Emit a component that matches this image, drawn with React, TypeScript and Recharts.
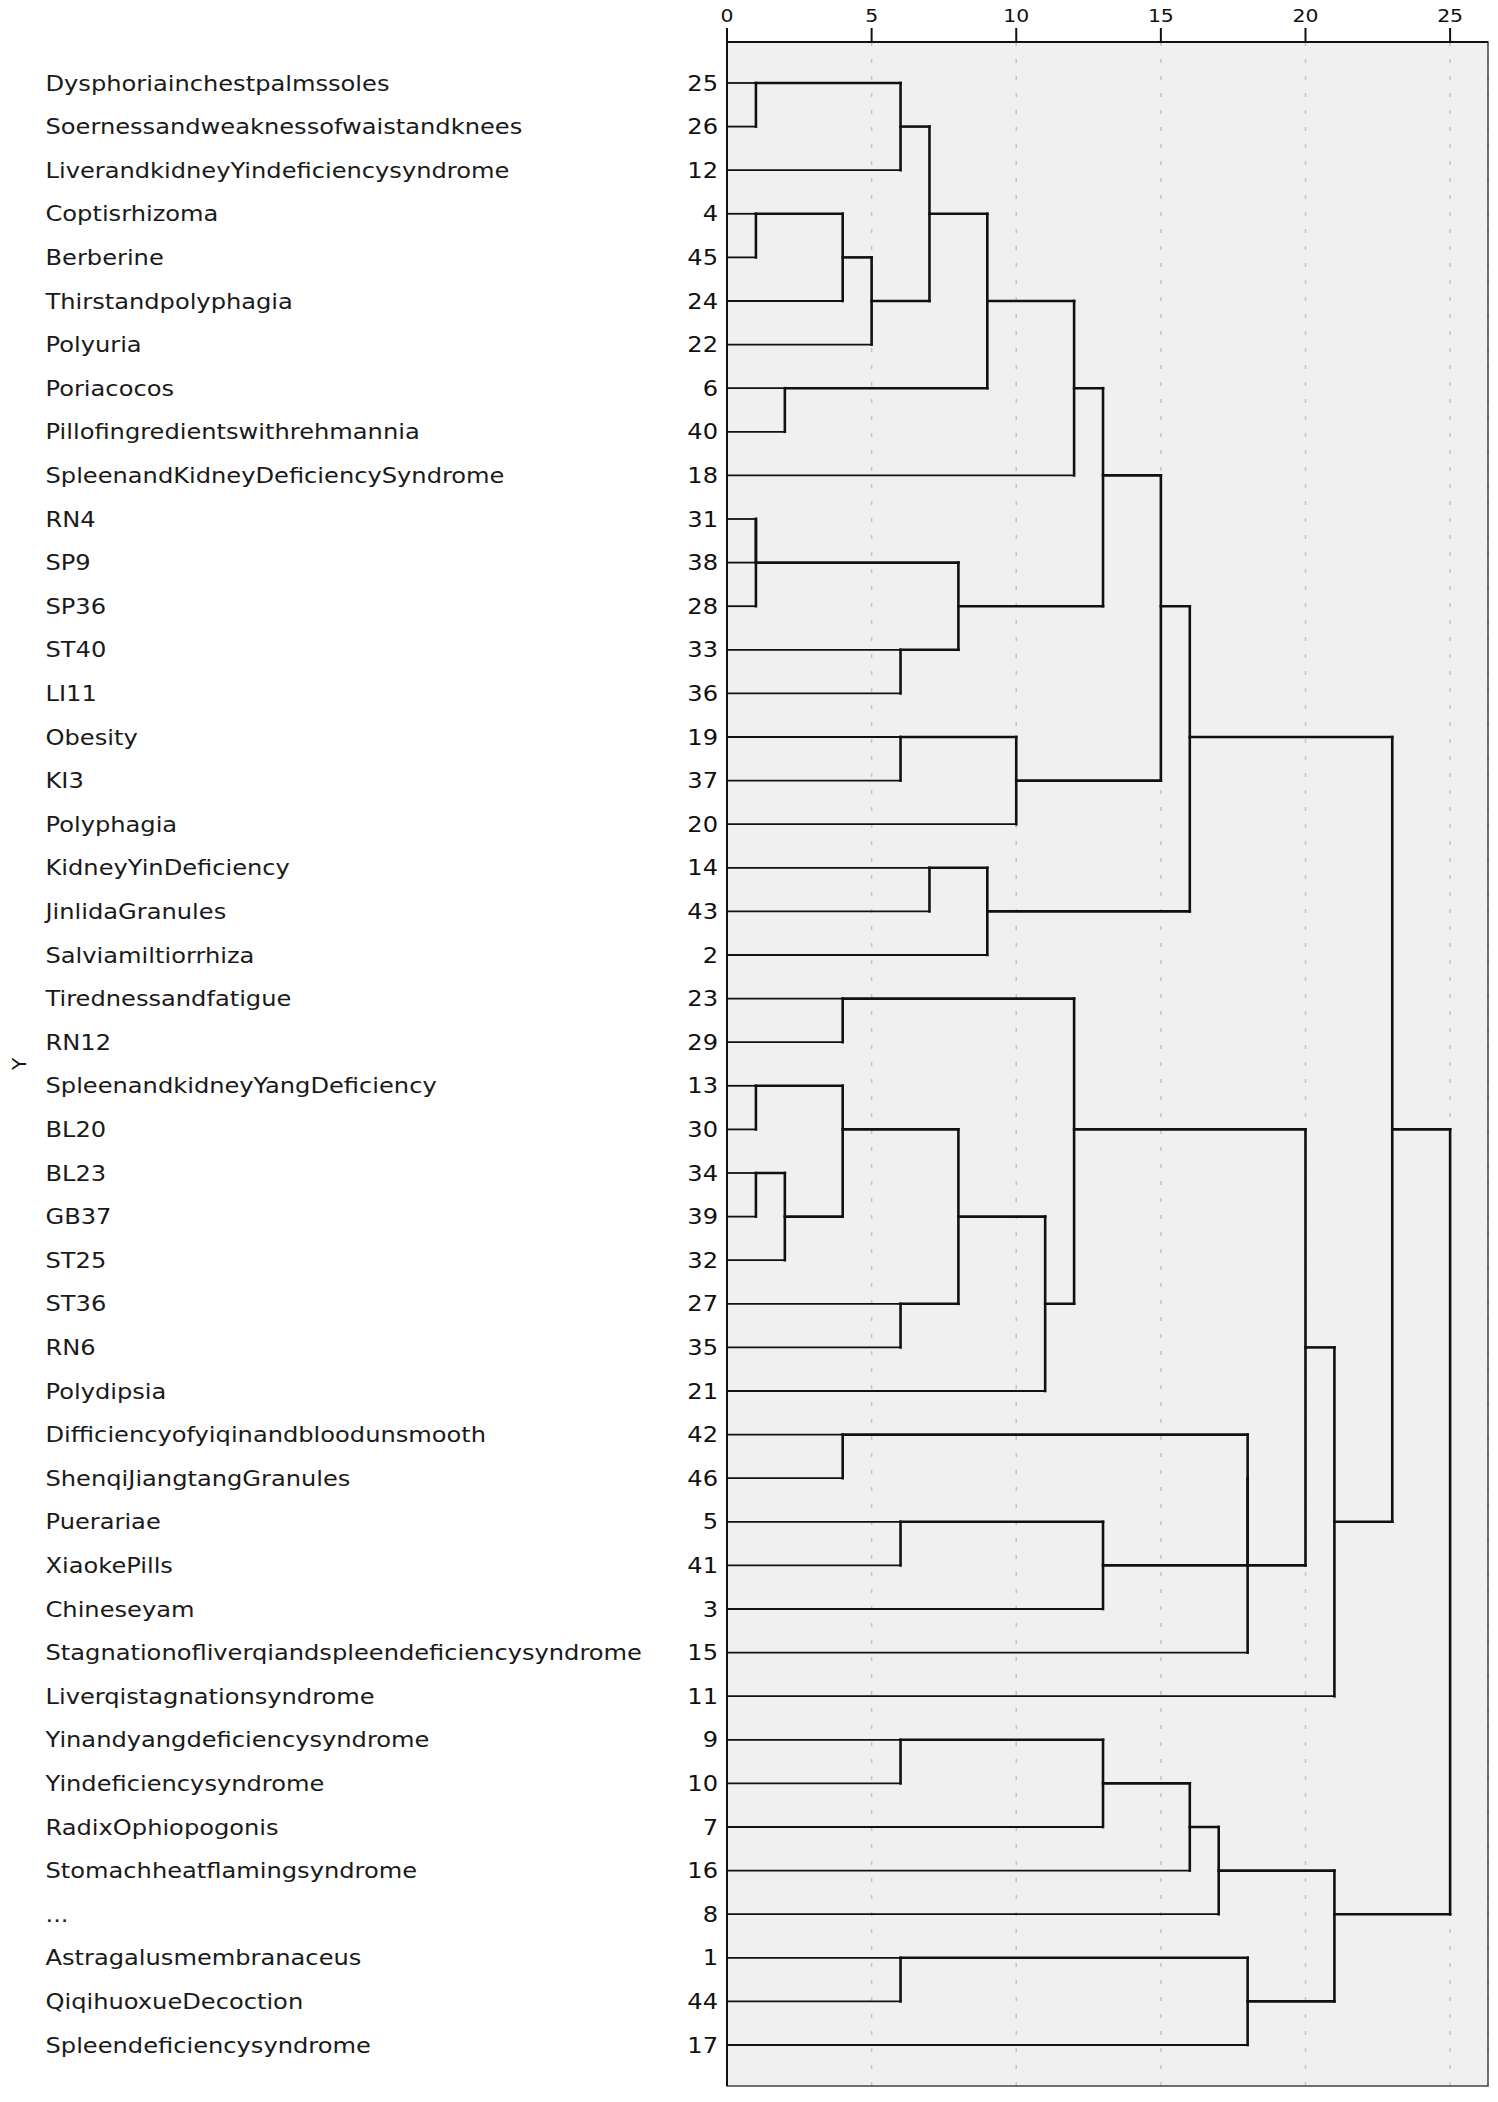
import React from 'react';
import { ComposedChart, XAxis, YAxis, CartesianGrid, ReferenceLine, ReferenceArea, Scatter } from 'recharts';

const labels = [
  'Dysphoriainchestpalmssoles',
  'Soernessandweaknessofwaistandknees',
  'LiverandkidneyYindeficiencysyndrome',
  'Coptisrhizoma',
  'Berberine',
  'Thirstandpolyphagia',
  'Polyuria',
  'Poriacocos',
  'Pillofingredientswithrehmannia',
  'SpleenandKidneyDeficiencySyndrome',
  'RN4',
  'SP9',
  'SP36',
  'ST40',
  'LI11',
  'Obesity',
  'KI3',
  'Polyphagia',
  'KidneyYinDeficiency',
  'JinlidaGranules',
  'Salviamiltiorrhiza',
  'Tirednessandfatigue',
  'RN12',
  'SpleenandkidneyYangDeficiency',
  'BL20',
  'BL23',
  'GB37',
  'ST25',
  'ST36',
  'RN6',
  'Polydipsia',
  'Difficiencyofyiqinandbloodunsmooth',
  'ShenqiJiangtangGranules',
  'Puerariae',
  'XiaokePills',
  'Chineseyam',
  'Stagnationofliverqiandspleendeficiencysyndrome',
  'Liverqistagnationsyndrome',
  'Yinandyangdeficiencysyndrome',
  'Yindeficiencysyndrome',
  'RadixOphiopogonis',
  'Stomachheatflamingsyndrome',
  '...',
  'Astragalusmembranaceus',
  'QiqihuoxueDecoction',
  'Spleendeficiencysyndrome',
];

const clusterIds = [
  25, 26, 12, 4, 45, 24, 22, 6, 40, 18, 31, 38, 28, 33, 36, 19, 37, 20, 14, 43, 2, 23, 29,
  13, 30, 34, 39, 32, 27, 35, 21, 42, 46, 5, 41, 3, 15, 11, 9, 10, 7, 16, 8, 1, 44, 17,
];

const xTicks = [0, 5, 10, 15, 20, 25];

// [nodeA, nodeB, rescaled distance]; leaves are rows 0..45, merge k makes node 46 + k
const merges: [number, number, number][] = [
  [0, 1, 1], [46, 2, 6], [3, 4, 1], [48, 5, 4], [49, 6, 5], [47, 50, 7], [7, 8, 2],
  [51, 52, 9], [53, 9, 12], [10, 11, 1], [55, 12, 1], [13, 14, 6], [56, 57, 8],
  [54, 58, 13], [15, 16, 6], [60, 17, 10], [59, 61, 15], [18, 19, 7], [63, 20, 9],
  [62, 64, 16],
  [21, 22, 4], [23, 24, 1], [25, 26, 1], [68, 27, 2], [67, 69, 4], [28, 29, 6],
  [70, 71, 8], [72, 30, 11], [66, 73, 12], [31, 32, 4], [33, 34, 6], [76, 35, 13],
  [75, 77, 18], [78, 36, 18], [74, 79, 20], [80, 37, 21], [65, 81, 23],
  [38, 39, 6], [83, 40, 13], [84, 41, 16], [85, 42, 17], [43, 44, 6], [87, 45, 18],
  [86, 88, 21], [82, 89, 25],
];

const N = labels.length;
const rows = labels.map((_, i) => i + 1);

// node positions: cluster line sits on the row at the (rounded-down) middle of its two children
const nodeRow = rows.slice();
const nodeHeight = rows.map(() => 0);
const segments: { x1: number; y1: number; x2: number; y2: number; thick: boolean }[] = [];
merges.forEach(([a, b, h]) => {
  [a, b].forEach((n) => {
    if (h > nodeHeight[n]) {
      segments.push({ x1: nodeHeight[n], y1: nodeRow[n], x2: h, y2: nodeRow[n], thick: n >= N });
    }
  });
  segments.push({ x1: h, y1: nodeRow[a], x2: h, y2: nodeRow[b], thick: true });
  nodeRow.push(Math.floor((nodeRow[a] + nodeRow[b]) / 2));
  nodeHeight.push(h);
});

const leafPoints = rows.map((r) => ({ x: 0, y: r }));

const FONT = 'DejaVu Sans';
const PLOT_LEFT = 719;
const TOP = 42;
const X_MAX = 26.31;

const YTick = (props: any) => {
  const { y, payload } = props;
  const i = payload.value - 1;
  return (
    <g>
      <text
        transform={`translate(37.5,${y}) scale(1.15,1)`}
        dy="0.36em"
        fontSize={21}
        fontFamily={FONT}
        fill="#1a1a1a"
      >
        {labels[i]}
      </text>
      <text
        transform={`translate(${PLOT_LEFT - 9},${y}) scale(1.15,1)`}
        dy="0.36em"
        textAnchor="end"
        fontSize={21}
        fontFamily={FONT}
        fill="#111"
      >
        {clusterIds[i]}
      </text>
    </g>
  );
};

const XTick = (props: any) => {
  const { x, payload } = props;
  return (
    <text
      transform={`translate(${x},21.7) scale(1.2,1)`}
      textAnchor="middle"
      fontSize={17}
      fontFamily={FONT}
      fill="#111"
    >
      {payload.value}
    </text>
  );
};

const YLabel = (props: any) => {
  const vb = props.viewBox || { y: TOP, height: 2044 };
  return (
    <text
      transform={`translate(11,${vb.y + vb.height / 2}) rotate(-90)`}
      textAnchor="middle"
      dominantBaseline="central"
      fontSize={20}
      fontFamily={FONT}
      fill="#111"
    >
      Y
    </text>
  );
};

export default function App() {
  return (
    <div style={{ marginTop: -8 }}>
      <ComposedChart
        width={1482}
        height={2094}
        margin={{ top: 0, right: 2, bottom: 8, left: 0 }}
      >
        <CartesianGrid
          horizontal={false}
          fill="#f0f0f0"
          stroke="#c4c4c4"
          strokeWidth={1.5}
          strokeDasharray="4 13"
        />
        <ReferenceArea
          x1={0}
          x2={X_MAX}
          y1={0.06}
          y2={46.94}
          fill="none"
          stroke="#444"
          strokeWidth={1.5}
          ifOverflow="visible"
        />
        <XAxis
          type="number"
          dataKey="x"
          orientation="top"
          domain={[0, X_MAX]}
          ticks={xTicks}
          interval={0}
          height={TOP}
          tickSize={14}
          allowDataOverflow
          axisLine={{ stroke: '#111', strokeWidth: 2 }}
          tickLine={{ stroke: '#111', strokeWidth: 2 }}
          tick={<XTick />}
        />
        <YAxis
          type="number"
          dataKey="y"
          domain={[0.06, 46.94]}
          reversed
          ticks={rows}
          interval={0}
          width={PLOT_LEFT}
          allowDataOverflow
          axisLine={{ stroke: '#111', strokeWidth: 2 }}
          tickLine={false}
          tick={<YTick />}
          label={{ content: <YLabel /> }}
        />
        <Scatter data={leafPoints} shape={() => <g />} isAnimationActive={false} />
        {segments.map((s, i) => (
          <ReferenceLine
            key={i}
            segment={[{ x: s.x1, y: s.y1 }, { x: s.x2, y: s.y2 }]}
            stroke="#111"
            strokeWidth={s.thick ? 2.6 : 1.8}
            strokeLinecap="square"
            ifOverflow="visible"
          />
        ))}
      </ComposedChart>
    </div>
  );
}
